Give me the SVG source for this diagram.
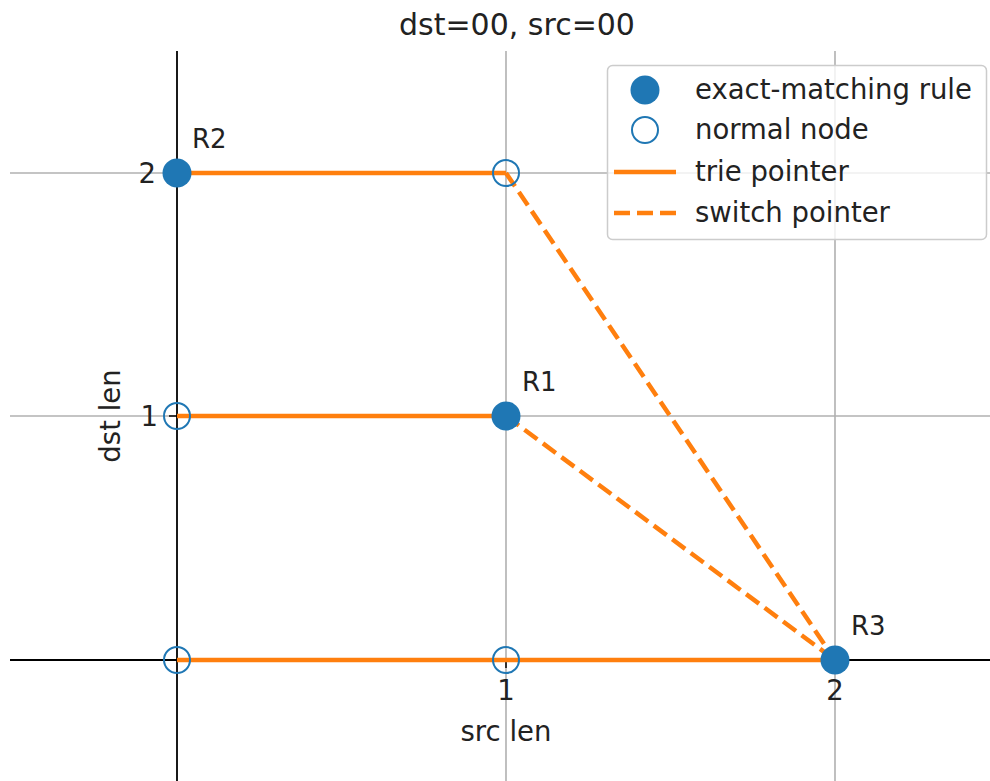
<svg xmlns="http://www.w3.org/2000/svg" width="990" height="781" viewBox="0 0 990 781">
<style>
text{font-family:"DejaVu Sans",sans-serif;fill:#222;font-size:27.5px}
.grid{stroke:#b0b0b0;stroke-width:1.6}
.spine{stroke:#000;stroke-width:1.8}
.tick{stroke:#000;stroke-width:1.5}
.trie{stroke:#ff7f0e;stroke-width:4.5;fill:none}
.sw{stroke:#ff7f0e;stroke-width:4.5;stroke-dasharray:16 7;fill:none}
.rule{fill:#1f77b4}
.norm{fill:none;stroke:#1f77b4;stroke-width:2}
</style>
<rect width="990" height="781" fill="#fff"/>
<g id="axes">
<line class="grid" x1="10" y1="173" x2="990" y2="173"/>
<line class="grid" x1="10" y1="416" x2="990" y2="416"/>
<line class="grid" x1="506" y1="51" x2="506" y2="781"/>
<line class="grid" x1="835" y1="51" x2="835" y2="781"/>
<line class="spine" x1="177" y1="51" x2="177" y2="781"/>
<line class="spine" x1="10" y1="660" x2="990" y2="660"/>
<line class="tick" x1="506" y1="660" x2="506" y2="668"/>
<line class="tick" x1="835" y1="660" x2="835" y2="668"/>
<line class="tick" x1="169" y1="173" x2="177" y2="173"/>
<line class="tick" x1="169" y1="416" x2="177" y2="416"/>
<text x="156" y="183" text-anchor="end">2</text>
<text x="158" y="426" text-anchor="end">1</text>
<text x="506" y="700" text-anchor="middle">1</text>
<text x="835" y="700" text-anchor="middle">2</text>
<text x="506" y="741" text-anchor="middle">src len</text>
<text transform="translate(120,416) rotate(-90)" text-anchor="middle">dst len</text>
<text x="517" y="35" text-anchor="middle" style="font-size:30px">dst=00, src=00</text>
</g>
<g id="connectors">
<line class="trie" x1="177" y1="173" x2="506" y2="173"/>
<line class="trie" x1="177" y1="416" x2="506" y2="416"/>
<line class="trie" x1="177" y1="660" x2="835" y2="660"/>
<line class="sw" x1="506" y1="173" x2="835" y2="660"/>
<line class="sw" x1="506" y1="416" x2="835" y2="660"/>
</g>
<g id="R2"><circle class="rule" cx="177" cy="173" r="14.5"/><text x="192" y="148" style="font-size:26px">R2</text></g>
<g id="n_1_2"><circle class="norm" cx="506" cy="173" r="13"/></g>
<g id="n_0_1"><circle class="norm" cx="177" cy="416" r="13"/></g>
<g id="R1"><circle class="rule" cx="506" cy="416" r="14.5"/><text x="522" y="391" style="font-size:26px">R1</text></g>
<g id="n_0_0"><circle class="norm" cx="177" cy="660" r="13"/></g>
<g id="n_1_0"><circle class="norm" cx="506" cy="660" r="13"/></g>
<g id="R3"><circle class="rule" cx="835" cy="660" r="14.5"/><text x="851" y="635" style="font-size:26px">R3</text></g>
<g id="legend">
<rect x="607.5" y="65.5" width="379" height="174" rx="5" fill="#fff" fill-opacity="0.8" stroke="#ccc" stroke-width="1.5"/>
<circle class="rule" cx="645" cy="90" r="14.5"/>
<text x="695" y="99">exact-matching rule</text>
<circle class="norm" cx="645" cy="130" r="13"/>
<text x="695" y="139">normal node</text>
<line class="trie" x1="614" y1="172" x2="676" y2="172"/>
<text x="695" y="181">trie pointer</text>
<line class="sw" x1="614" y1="213" x2="676" y2="213"/>
<text x="695" y="222">switch pointer</text>
</g>
</svg>
